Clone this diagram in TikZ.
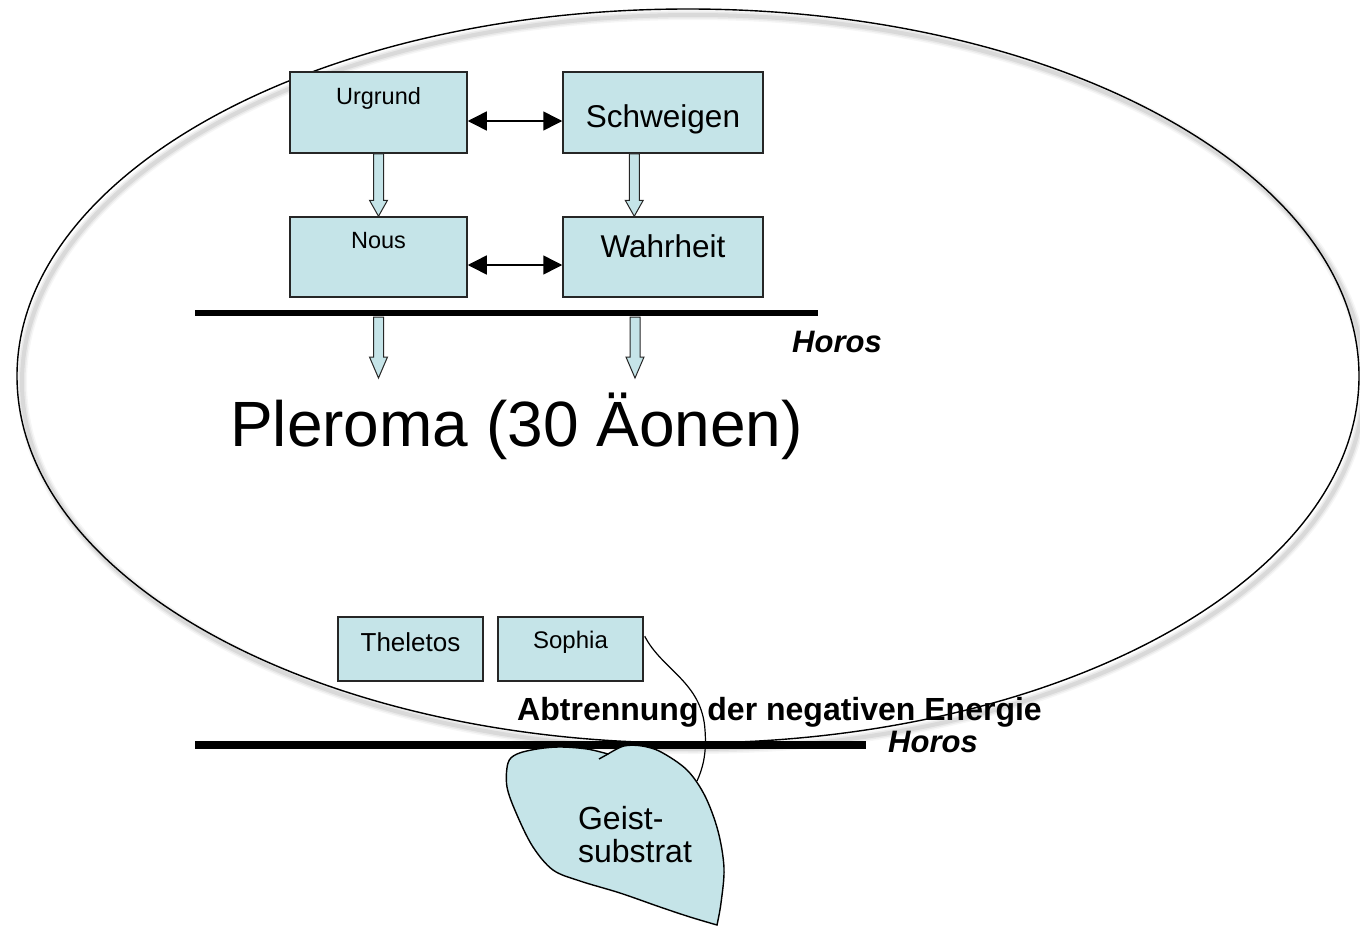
\documentclass[tikz,border=0pt]{standalone}
\usepackage{fontspec}
\setmainfont{Liberation Sans}
\usetikzlibrary{arrows.meta,calc}
\definecolor{aeonblue}{RGB}{197,228,232}
\newcommand\fsz[2]{\fontsize{#1pt}{#2pt}\selectfont}
% hollow block arrow from #1 down to #2, head length #3
\newcommand\hollowarrow[3]{%
  \filldraw[flowarrow] ($(#1)+(-5,0)$) -- ($(#2)+(-5,-#3)$) -- ($(#2)+(-9,-#3)$)
    -- (#2) -- ($(#2)+(9,-#3)$) -- ($(#2)+(5,-#3)$) -- ($(#1)+(5,0)$) -- cycle;}
\begin{document}
\begin{tikzpicture}[x=1pt,y=-1pt,
  aeon/.style={draw=black!85, line width=1.5pt, fill=aeonblue, inner sep=0pt, anchor=base},
  pairarrow/.style={line width=1.5pt,
    {Triangle[length=19pt,width=19pt]}-{Triangle[length=19pt,width=19pt]}},
  flowarrow/.style={draw=black!85, line width=1pt, fill=aeonblue},
  label/.style={inner sep=0pt, anchor=base},
  horostext/.style={label, font=\fsz{31}{31}\bfseries\itshape}]
\useasboundingbox (0,0) rectangle (1360,929);

% the Pleroma: soft shadow, then outline
\foreach \w/\o in {10/0.035, 7/0.05, 4/0.07}
  \draw[line width=\w pt, black, opacity=\o] (693,382) ellipse [x radius=671pt, y radius=367pt];
\draw[line width=1.4pt] (688,376) ellipse [x radius=671pt, y radius=367pt];

% Horos boundaries
\coordinate (hA1) at (195,313);
\coordinate (hA2) at (818,313);
\coordinate (hB1) at (195,745);
\coordinate (hB2) at (866,745);
\draw[line width=6.5pt] (hA1) -- (hA2);
\draw[line width=8pt] (hB1) -- (hB2);

% the first four aeons
\node[aeon, minimum width=177pt, text height=32pt, text depth=49pt, font=\fsz{23.5}{28}]
  (urg) at (378.5,104) {Urgrund};
\node[aeon, minimum width=200pt, text height=55pt, text depth=26pt, font=\fsz{31.5}{36}]
  (sch) at (663,127) {Schweigen};
\node[aeon, minimum width=177pt, text height=31pt, text depth=49pt, font=\fsz{23.5}{28}]
  (nous) at (378.5,248) {Nous};
\node[aeon, minimum width=200pt, text height=40pt, text depth=40pt, font=\fsz{31.5}{36}]
  (wah) at (663,257) {Wahrheit};

\draw[pairarrow] ([yshift=-8.5pt]urg.east) -- ([yshift=-8.5pt]urg.east -| sch.west);
\draw[pairarrow] ([yshift=-8pt]nous.east) -- ([yshift=-8pt]nous.east -| wah.west);

% emanation arrows
\coordinate (s1) at ($(sch.south west)+(72,0)$);
\coordinate (w1) at (s1 |- wah.north);
\hollowarrow{urg.south}{nous.north}{16}
\hollowarrow{s1}{w1}{16}
\coordinate (p1s) at (378.5,317);
\coordinate (p1e) at (378.5,378);
\coordinate (p2s) at (635,317);
\coordinate (p2e) at (635,378);
\hollowarrow{p1s}{p1e}{21}
\hollowarrow{p2s}{p2e}{21}

\node[horostext] (horos1) at (837,352) {Horos};
\node[label, font=\fsz{64}{64}] (pler) at (516.5,446) {Pleroma (30 Äonen)};

% last aeons
\node[aeon, minimum width=145pt, text height=34pt, text depth=30pt, font=\fsz{26}{30}]
  (thel) at (410.5,651) {Theletos};
\node[aeon, minimum width=145pt, text height=31pt, text depth=33pt, font=\fsz{24}{28}]
  (soph) at (570.5,648) {Sophia};

\node[label, font=\fsz{32}{32}\bfseries] (abt) at (779.5,720) {Abtrennung der negativen Energie};
\node[horostext] (horos2) at (933,752) {Horos};

% the separated substrate
\filldraw[draw=black, line width=1.4pt, fill=aeonblue]
  plot[smooth, tension=0.55] coordinates {(608,754) (624,746) (642,746) (661,752)
    (687,770) (705,796) (718,831) (724,868) (721,903) (717,925)}
  -- plot[smooth, tension=0.55] coordinates {(717,925) (690,917) (660,907) (620,893)
    (580,881) (553,870) (533,847) (517,815) (507,787) (508,763) (517,754) (537,749)
    (560,747) (587,749) (608,754)} -- cycle;
\draw[line width=1.4pt] (608,754) -- (599,759);
\coordinate (blobR) at (697,781);
\node[inner sep=0pt, align=left, font=\fsz{32}{33}] (geist) at (635,835) {Geist-\\substrat};

\draw[line width=1.2pt] ($(soph.north east)+(1,20)$) .. controls (662,670) and (702,682) .. (705,730)
  .. controls (707,755) and (702,770) .. (blobR);
\end{tikzpicture}
\end{document}
